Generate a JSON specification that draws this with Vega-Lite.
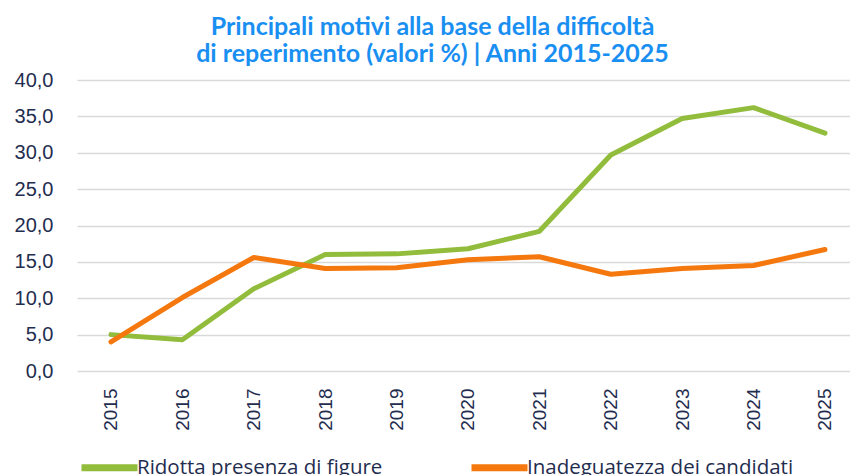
{
  "$schema": "https://vega.github.io/schema/vega-lite/v6.json",
  "width": 773,
  "height": 291,
  "autosize": {"type": "none"},
  "padding": {"left": 77, "top": 80, "right": 0, "bottom": 104},
  "background": "white",
  "title": {
    "text": ["Principali motivi alla base della difficoltà", "di reperimento (valori %) | Anni 2015-2025"],
    "font": "Lato",
    "fontSize": 25,
    "fontWeight": "bold",
    "color": "#1a8ff2",
    "lineHeight": 27,
    "anchor": "middle",
    "dx": -31,
    "offset": 3
  },
  "data": {
    "values": [
      {"anno": "2015", "serie": "Ridotta presenza di figure", "valore": 5.0},
      {"anno": "2016", "serie": "Ridotta presenza di figure", "valore": 4.3},
      {"anno": "2017", "serie": "Ridotta presenza di figure", "valore": 11.3},
      {"anno": "2018", "serie": "Ridotta presenza di figure", "valore": 16.0},
      {"anno": "2019", "serie": "Ridotta presenza di figure", "valore": 16.1},
      {"anno": "2020", "serie": "Ridotta presenza di figure", "valore": 16.8},
      {"anno": "2021", "serie": "Ridotta presenza di figure", "valore": 19.2},
      {"anno": "2022", "serie": "Ridotta presenza di figure", "valore": 29.7},
      {"anno": "2023", "serie": "Ridotta presenza di figure", "valore": 34.7},
      {"anno": "2024", "serie": "Ridotta presenza di figure", "valore": 36.2},
      {"anno": "2025", "serie": "Ridotta presenza di figure", "valore": 32.7},
      {"anno": "2015", "serie": "Inadeguatezza dei candidati", "valore": 4.0},
      {"anno": "2016", "serie": "Inadeguatezza dei candidati", "valore": 10.1},
      {"anno": "2017", "serie": "Inadeguatezza dei candidati", "valore": 15.6},
      {"anno": "2018", "serie": "Inadeguatezza dei candidati", "valore": 14.1},
      {"anno": "2019", "serie": "Inadeguatezza dei candidati", "valore": 14.2},
      {"anno": "2020", "serie": "Inadeguatezza dei candidati", "valore": 15.3},
      {"anno": "2021", "serie": "Inadeguatezza dei candidati", "valore": 15.7},
      {"anno": "2022", "serie": "Inadeguatezza dei candidati", "valore": 13.3},
      {"anno": "2023", "serie": "Inadeguatezza dei candidati", "valore": 14.1},
      {"anno": "2024", "serie": "Inadeguatezza dei candidati", "valore": 14.5},
      {"anno": "2025", "serie": "Inadeguatezza dei candidati", "valore": 16.7}
    ]
  },
  "mark": {"type": "line", "strokeWidth": 5, "strokeCap": "round", "strokeJoin": "round"},
  "encoding": {
    "x": {
      "field": "anno",
      "type": "ordinal",
      "scale": {"type": "point", "padding": 0.413, "align": 0.576},
      "axis": {
        "title": null,
        "labelAngle": -90,
        "labelAlign": "right",
        "labelBaseline": "middle",
        "labelFont": "Liberation Sans",
        "labelFontSize": 19,
        "labelColor": "#1f2d4f",
        "ticks": false,
        "tickSize": 0,
        "labelPadding": 17,
        "domain": false,
        "grid": false
      }
    },
    "y": {
      "field": "valore",
      "type": "quantitative",
      "scale": {"domain": [0, 40], "nice": false},
      "axis": {
        "title": null,
        "values": [0, 5, 10, 15, 20, 25, 30, 35, 40],
        "labelExpr": "replace(format(datum.value, '.1f'), '.', ',')",
        "labelFont": "Liberation Sans",
        "labelFontSize": 20,
        "labelColor": "#1f2d4f",
        "ticks": false,
        "tickSize": 0,
        "labelPadding": 24,
        "domain": false,
        "grid": true,
        "gridColor": "#d9d9d9",
        "gridWidth": 1.5
      }
    },
    "color": {
      "field": "serie",
      "type": "nominal",
      "scale": {
        "domain": ["Ridotta presenza di figure", "Inadeguatezza dei candidati"],
        "range": ["#92bc3c", "#f5780e"]
      },
      "legend": {
        "title": null,
        "orient": "none",
        "direction": "horizontal",
        "legendX": 1,
        "legendY": 356,
        "symbolType": "stroke",
        "symbolSize": 3136,
        "symbolStrokeWidth": 7,
        "labelFont": "Open Sans",
        "labelFontSize": 20.5,
        "labelColor": "#1f2d4f",
        "labelOffset": -4,
        "columnPadding": 74,
        "labelLimit": 400
      }
    }
  },
  "config": {"view": {"stroke": null}}
}
